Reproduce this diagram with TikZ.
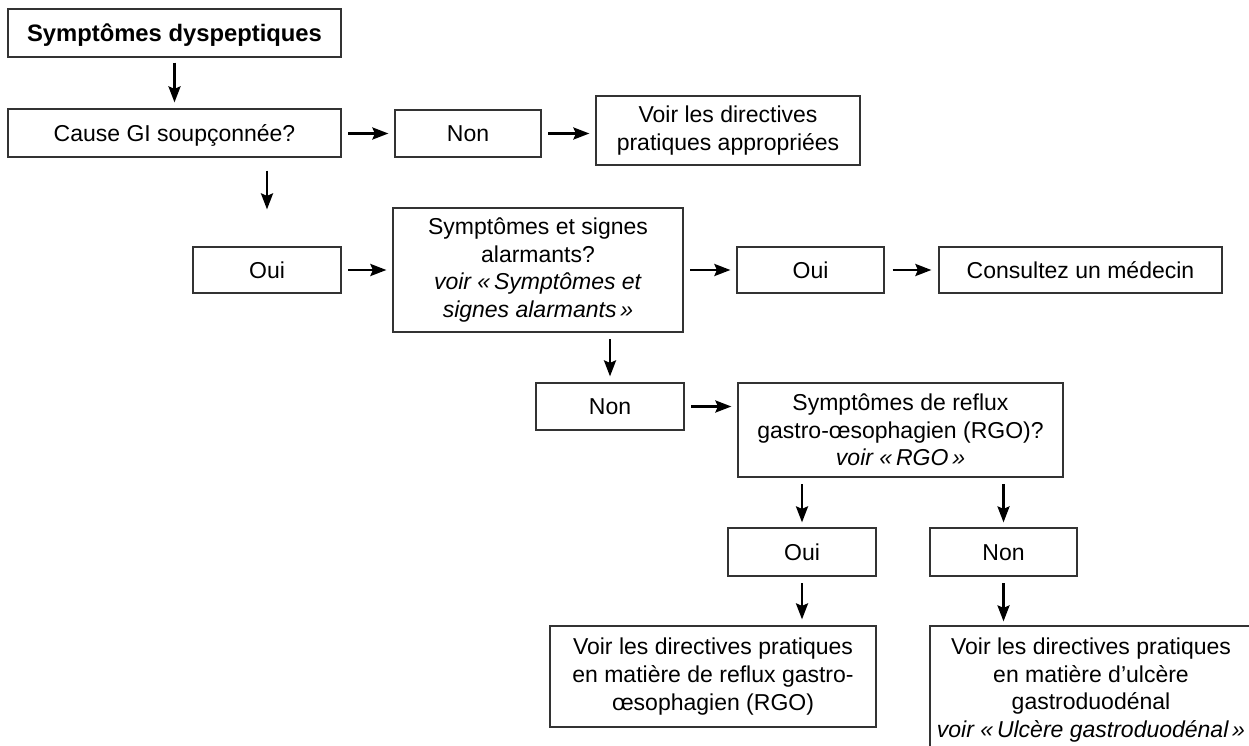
\documentclass[tikz,border=0pt]{standalone}
\usepackage{fontspec}
\setmainfont{Liberation Sans}
\usetikzlibrary{arrows.meta}
\tikzset{
  box/.style={draw=black!80, line width=1.2pt, rectangle, inner sep=0pt, align=center,
    font=\fontsize{23}{27.6}\selectfont},
  one/.style={text height=16.6pt, text depth=0pt},
  arr/.style={-{Stealth[length=16pt,width=12pt,inset=2.5pt]}, line width=2.6pt, black,
    shorten <=6.5pt, shorten >=6pt}
}
\begin{document}
\begin{tikzpicture}[x=1pt,y=-1pt]
\useasboundingbox (0,0) rectangle (1249,746);
\fill[white] (0,0) rectangle (1249,746);
\node[box, one, minimum width=333pt, minimum height=48pt, font=\fontsize{23.8}{28}\selectfont\bfseries] (title) at (174.5,33) {Symptômes dyspeptiques};
\node[box, one, minimum width=333pt, minimum height=48pt] (cause) at (174.5,133) {Cause GI soupçonnée?};
\node[box, one, minimum width=146pt, minimum height=47pt] (non1) at (468,133.5) {Non};
\node[box, minimum width=264pt, minimum height=69pt] (voir1) at (728,130.5) {Voir les directives\\pratiques appropriées};
\node[box, one, minimum width=148pt, minimum height=46pt] (oui1) at (267,270) {Oui};
\node[box, minimum width=290pt, minimum height=124pt] (alarm) at (538,270) {Symptômes et signes\\alarmants?\\\textit{voir «\,Symptômes et}\\\textit{signes alarmants\,»}};
\node[box, one, minimum width=147pt, minimum height=46pt] (oui2) at (810.5,270) {Oui};
\node[box, one, minimum width=283pt, minimum height=46pt] (consult) at (1080.5,270) {Consultez un médecin};
\node[box, one, minimum width=148pt, minimum height=47pt] (non2) at (610,406.5) {Non};
\node[box, minimum width=325pt, minimum height=94pt] (reflux) at (900.5,430) {Symptômes de reflux\\gastro-œsophagien (RGO)?\\\textit{voir «\,RGO\,»}};
\node[box, one, minimum width=148pt, minimum height=48pt] (oui3) at (802,552) {Oui};
\node[box, one, minimum width=147pt, minimum height=48pt] (non3) at (1003.5,552) {Non};
\node[box, minimum width=326pt, minimum height=101pt] (rgo) at (713,676.5) {Voir les directives pratiques\\en matière de reflux gastro-\\œsophagien (RGO)};
\begin{scope}
\clip (0,0) rectangle (1249,746);
\node[box, minimum width=322pt, minimum height=128pt] (ulcer) at (1091,690) {Voir les directives pratiques\\en matière d’ulcère\\gastroduodénal\\\textit{voir «\,Ulcère gastroduodénal\,»}};
\end{scope}
\draw[arr, shorten <=5pt] (title) -- (cause);
\draw[arr] (cause.east |- non1) -- (non1);
\draw[arr] (non1.east) -- (non1.east -| voir1.west);
\draw[arr, shorten <=13pt, shorten >=37pt] (cause.south -| oui1) -- (oui1.north);
\draw[arr] (oui1) -- (alarm);
\draw[arr] (alarm) -- (oui2);
\draw[arr, shorten <=8pt, shorten >=7pt] (oui2) -- (consult);
\draw[arr] (alarm.south -| non2) -- (non2.north);
\draw[arr] (non2.east) -- (non2.east -| reflux.west);
\draw[arr, shorten >=5pt] (reflux.south -| oui3) -- (oui3.north);
\draw[arr, shorten >=5pt] (reflux.south -| non3) -- (non3.north);
\draw[arr] (oui3.south) -- (oui3.south |- rgo.north);
\draw[arr, shorten >=4pt] (non3.south) -- (non3.south |- ulcer.north);
\end{tikzpicture}
\end{document}
